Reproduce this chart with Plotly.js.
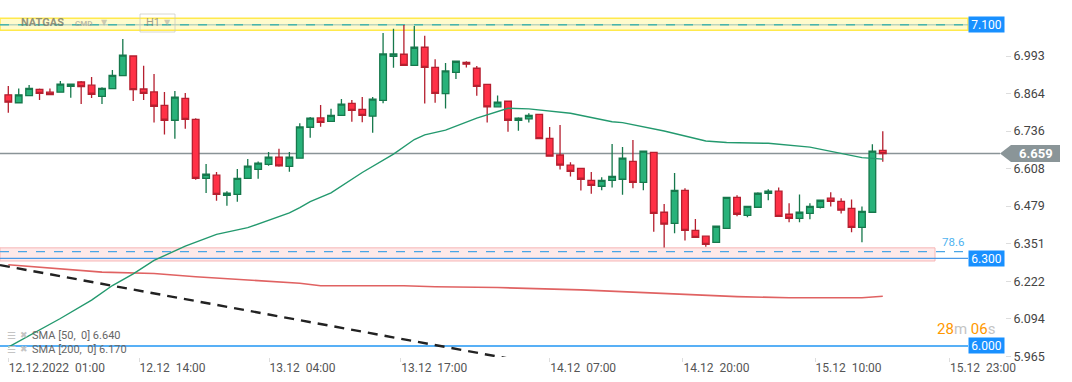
<!DOCTYPE html>
<html><head><meta charset="utf-8">
<script src="https://cdn.plot.ly/plotly-3.0.1.min.js"></script>
<style>html,body{margin:0;padding:0;background:#fff;}#chart{width:1072px;height:382px;}</style>
</head><body><div id="chart"></div>
<script>
// ---------- DATA (NATGAS, H1 candles) ----------
const openP = [6.860,6.833,6.857,6.879,6.869,6.869,6.889,6.904,6.893,6.855,
6.881,6.926,6.993,6.880,6.870,6.824,6.773,6.848,6.776,6.574,
6.585,6.516,6.519,6.574,6.605,6.622,6.647,6.615,6.643,6.749,
6.781,6.769,6.790,6.831,6.810,6.787,6.841,6.992,6.999,6.961,
7.023,6.954,6.864,6.937,6.971,6.951,6.896,6.819,6.838,6.773,
6.778,6.793,6.711,6.654,6.619,6.608,6.567,6.547,6.567,6.571,
6.632,6.560,6.663,6.458,6.420,6.533,6.396,6.376,6.355,6.403,
6.509,6.447,6.475,6.523,6.530,6.451,6.437,6.454,6.475,6.506,
6.495,6.471,6.406,6.458,6.670];
const highP = [6.890,6.882,6.894,6.882,6.882,6.907,6.898,6.907,6.921,6.886,
6.945,7.051,6.995,6.960,6.931,6.870,6.873,6.866,6.780,6.623,
6.596,6.530,6.606,6.640,6.632,6.664,6.675,6.664,6.763,6.784,
6.825,6.812,6.846,6.842,6.853,6.853,7.072,7.086,7.099,7.096,
7.062,6.982,6.969,6.976,6.975,6.959,6.897,6.858,6.841,6.783,
6.797,6.794,6.750,6.757,6.629,6.609,6.596,6.578,6.692,6.681,
6.705,6.668,6.664,6.486,6.592,6.540,6.435,6.377,6.411,6.510,
6.516,6.479,6.526,6.537,6.543,6.489,6.519,6.489,6.500,6.526,
6.506,6.502,6.478,6.691,6.735];
const lowP = [6.799,6.830,6.856,6.842,6.860,6.868,6.850,6.829,6.849,6.829,
6.880,6.925,6.839,6.842,6.765,6.724,6.710,6.744,6.569,6.524,
6.497,6.480,6.494,6.573,6.573,6.617,6.614,6.597,6.642,6.713,
6.751,6.768,6.789,6.768,6.766,6.730,6.831,6.953,6.960,6.960,
6.830,6.833,6.813,6.914,6.954,6.857,6.765,6.818,6.734,6.737,
6.765,6.708,6.649,6.604,6.580,6.532,6.521,6.533,6.543,6.518,
6.540,6.533,6.391,6.337,6.386,6.361,6.371,6.340,6.354,6.402,
6.444,6.441,6.474,6.499,6.443,6.424,6.424,6.434,6.471,6.478,
6.454,6.389,6.355,6.457,6.631];
const closeP = [6.835,6.860,6.882,6.865,6.861,6.897,6.897,6.888,6.862,6.882,
6.927,6.996,6.878,6.865,6.821,6.773,6.852,6.776,6.574,6.588,
6.519,6.523,6.574,6.616,6.626,6.647,6.617,6.647,6.750,6.780,
6.766,6.790,6.828,6.807,6.790,6.845,7.000,7.000,6.961,7.023,
6.954,6.865,6.942,6.975,6.965,6.889,6.819,6.835,6.773,6.780,
6.790,6.710,6.650,6.619,6.598,6.571,6.550,6.567,6.581,6.643,
6.560,6.667,6.454,6.417,6.533,6.396,6.372,6.348,6.410,6.509,
6.451,6.478,6.523,6.530,6.444,6.437,6.458,6.478,6.499,6.495,
6.465,6.406,6.461,6.667,6.659];

// SMA 50 (read at candle indices)
const sma50Idx = [0,5,8,10,12,14,17,20,23,25,27,28,29,31,34,37,39,40,42,45,48,50,52,54,58,59,63,67,69,73,77,80,82,84];
const sma50Val = [5.996,6.094,6.157,6.207,6.247,6.293,6.342,6.382,6.405,6.430,6.456,6.474,6.494,6.524,6.594,6.657,6.707,6.723,6.739,6.780,6.814,6.812,6.805,6.797,6.768,6.765,6.736,6.702,6.697,6.694,6.681,6.658,6.645,6.640];
// SMA 200
const sma200Idx = [0,4,9,14,18,23,28,30,38,41,47,55,60,65,70,75,82,84];
const sma200Val = [6.278,6.266,6.253,6.248,6.237,6.226,6.215,6.206,6.206,6.203,6.200,6.192,6.184,6.177,6.169,6.165,6.165,6.170];
// Trend line (dashed)
const trendIdx = [-0.8, 52];
const trendVal = [6.277, 5.931];

// Levels
const levelVals = [7.100, 6.300, 6.000];
const levelLabels = ['7.100', '6.300', '6.000'];
const fibVal = 6.323, fibLabel = '78.6';
const lastPrice = 6.659, lastLabel = '6.659';

// Axis ticks
const xTickPos = [0, 12.56, 25.05, 37.7, 52.0, 64.8, 77.5, 90.4];
const xTickText = ['12.12.2022\u00a0\u00a001:00','12.12\u00a0\u00a014:00','13.12\u00a0\u00a004:00','13.12\u00a0\u00a017:00','14.12\u00a0\u00a007:00','14.12\u00a0\u00a020:00','15.12\u00a0\u00a010:00','15.12\u00a0\u00a023:00'];
const yTickVals = [6.993, 6.864, 6.736, 6.608, 6.479, 6.351, 6.222, 6.094, 5.965];
const yTickText = ['6.993','6.864','6.736','6.608','6.479','6.351','6.222','6.094','5.965'];

// ---------- STYLE / LAYOUT ----------
const PW = 1005, PH = 357;
const px = x => x / PW;
const py = y => 1 - y / PH;
const FONT = 'Roboto, "Noto Sans", sans-serif';
const idx = openP.map((_, i) => i);

const traces = [
  {type:'scatter', mode:'lines', x:sma200Idx, y:sma200Val, line:{color:'#e06262', width:1.6}, hoverinfo:'skip'},
  {type:'scatter', mode:'lines', x:trendIdx, y:trendVal, line:{color:'#222', width:2.4, dash:'10px,7px'}, hoverinfo:'skip'},
  {type:'scatter', mode:'lines', x:sma50Idx, y:sma50Val, line:{color:'#23996e', width:1.4}, hoverinfo:'skip'},
  {type:'candlestick', x:idx, open:openP, high:highP, low:lowP, close:closeP,
   increasing:{line:{color:'#16784c', width:1.3}, fillcolor:'#28b27a'},
   decreasing:{line:{color:'#b51f2f', width:1.3}, fillcolor:'#ff3146'},
   whiskerwidth:0, hoverinfo:'skip'}
];

const shapes = [
  // yellow band around 7.100
  {type:'rect', xref:'paper', yref:'y', x0:0, x1:px(968), y0:7.081, y1:7.122, fillcolor:'#fffbcc', line:{color:'#ffe94d', width:1.5}, layer:'below'},
  {type:'line', xref:'paper', yref:'y', x0:0, x1:px(968), y0:levelVals[0], y1:levelVals[0], line:{color:'rgba(140,190,180,0.6)', width:1.5}, layer:'below'},
  {type:'line', xref:'paper', yref:'y', x0:0, x1:px(968), y0:levelVals[0], y1:levelVals[0], line:{color:'#49b5ac', width:1.5, dash:'dash'}, layer:'below'},
  // pink fib band
  {type:'rect', xref:'paper', yref:'y', x0:0, x1:px(935), y0:6.291, y1:6.336, fillcolor:'rgba(253,225,225,0.75)', line:{color:'#f6b6b6', width:1}, layer:'below'},
  {type:'line', xref:'paper', yref:'y', x0:0, x1:px(967), y0:fibVal, y1:fibVal, line:{color:'#4aa6e6', width:1.2, dash:'dash'}, layer:'below'},
  // 6.300 level
  {type:'line', xref:'paper', yref:'y', x0:0, x1:px(968), y0:levelVals[1], y1:levelVals[1], line:{color:'#4a9ae8', width:1.2}, layer:'below'},
  // 6.000 level
  {type:'line', xref:'paper', yref:'y', x0:0, x1:px(968), y0:levelVals[2], y1:levelVals[2], line:{color:'#2196f3', width:1.5}, layer:'below'},
  // last price line
  {type:'line', xref:'paper', yref:'y', x0:0, x1:px(1000), y0:lastPrice, y1:lastPrice, line:{color:'#8a9497', width:1.5}, layer:'below'},
  // last price tag
  {type:'path', xref:'paper', yref:'y', path:`M ${px(1000)},${lastPrice} L ${px(1011)},${lastPrice+0.029} L ${px(1060)},${lastPrice+0.029} L ${px(1060)},${lastPrice-0.029} L ${px(1011)},${lastPrice-0.029} Z`, fillcolor:'#8a9598', line:{width:0}},
  // H1 box
  {type:'rect', xref:'paper', yref:'paper', x0:px(140), x1:px(175), y0:py(32), y1:py(14), line:{color:'rgba(200,200,190,0.7)', width:1}, fillcolor:'rgba(255,255,255,0)'}
];

const annotations = [];
levelVals.forEach((v, i) => {
  annotations.push({xref:'paper', yref:'y', x:px(968), y:v, xanchor:'left', yanchor:'middle', text:levelLabels[i], showarrow:false,
    bgcolor:'#1890ff', font:{color:'#fff', size:12, family:FONT}, width:33, height:13, borderpad:1, align:'center'});
});
annotations.push(
  {xref:'paper', yref:'y', x:px(1036), y:lastPrice, xanchor:'center', yanchor:'middle', text:'<b>'+lastLabel+'</b>', showarrow:false, font:{color:'#fff', size:13, family:FONT}},
  {xref:'paper', yref:'y', x:px(940), y:fibVal+0.033, xanchor:'left', yanchor:'middle', text:fibLabel, showarrow:false, font:{color:'#4fb3f0', size:11.5, family:FONT}},
  {xref:'paper', yref:'paper', x:px(996), y:py(329), xanchor:'right', yanchor:'middle', showarrow:false, font:{size:15, family:FONT}, borderpad:0,
   text:'<span style="color:#ff9800">28</span><span style="color:#c4c4c4">m</span> <span style="color:#ff9800">06</span><span style="color:#c4c4c4">s</span>'},
  // header
  {xref:'paper', yref:'paper', x:px(19), y:py(23), xanchor:'left', yanchor:'middle', showarrow:false, text:'<b>NATGAS</b>', font:{size:11, color:'rgba(120,120,105,0.8)', family:FONT}},
  {xref:'paper', yref:'paper', x:px(73), y:py(24), xanchor:'left', yanchor:'middle', showarrow:false, text:'<b>CMD</b>', font:{size:8, color:'rgba(160,160,150,0.7)', family:FONT}},
  {xref:'paper', yref:'paper', x:px(99), y:py(22), xanchor:'left', yanchor:'middle', showarrow:false, text:'▼', font:{size:8, color:'rgba(170,170,160,0.6)', family:'DejaVu Sans'}},
  {xref:'paper', yref:'paper', x:px(144), y:py(23), xanchor:'left', yanchor:'middle', showarrow:false, text:'H1', font:{size:11, color:'rgba(120,120,110,0.7)', family:FONT}},
  {xref:'paper', yref:'paper', x:px(162), y:py(23), xanchor:'left', yanchor:'middle', showarrow:false, text:'▼', font:{size:8, color:'rgba(170,170,160,0.6)', family:'DejaVu Sans'}},
  // legend
  {xref:'paper', yref:'paper', x:px(5), y:py(335), xanchor:'left', yanchor:'middle', showarrow:false, text:'☰', font:{size:10, color:'#c4c4c4', family:'DejaVu Sans'}},
  {xref:'paper', yref:'paper', x:px(18), y:py(335), xanchor:'left', yanchor:'middle', showarrow:false, text:'✖', font:{size:9, color:'#c4c4c4', family:'DejaVu Sans'}},
  {xref:'paper', yref:'paper', x:px(30), y:py(335.5), xanchor:'left', yanchor:'middle', showarrow:false, text:'SMA [50,\u00a0 0] 6.640', font:{size:11, color:'#666', family:FONT}},
  {xref:'paper', yref:'paper', x:px(5), y:py(349), xanchor:'left', yanchor:'middle', showarrow:false, text:'☰', font:{size:10, color:'#c4c4c4', family:'DejaVu Sans'}},
  {xref:'paper', yref:'paper', x:px(18), y:py(349), xanchor:'left', yanchor:'middle', showarrow:false, text:'✖', font:{size:9, color:'#c4c4c4', family:'DejaVu Sans'}},
  {xref:'paper', yref:'paper', x:px(30), y:py(349.5), xanchor:'left', yanchor:'middle', showarrow:false, text:'SMA [200,\u00a0 0] 6.170', font:{size:11, color:'#666', family:FONT}}
);

const layout = {
  width:1072, height:382,
  margin:{l:0, r:67, t:0, b:25, pad:0},
  paper_bgcolor:'#fff', plot_bgcolor:'#fff',
  showlegend:false,
  font:{family:FONT},
  boxgap:0.2, boxgroupgap:0.2,
  xaxis:{range:[-0.797, 95.74], tickmode:'array', tickvals:xTickPos, ticktext:xTickText,
    ticks:'outside', ticklen:4, tickcolor:'#ddd', tickwidth:1, ticklabelposition:'outside right',
    tickfont:{size:12, color:'#555', family:FONT}, showgrid:false, zeroline:false, showline:false,
    rangeslider:{visible:false}, fixedrange:true},
  yaxis:{side:'right', range:[5.9622, 7.1848], tickmode:'array', tickvals:yTickVals, ticktext:yTickText,
    ticks:'outside', ticklen:5, tickcolor:'#ddd', tickwidth:1,
    tickfont:{size:12.5, color:'#444', family:FONT}, showgrid:false, zeroline:false, showline:false, fixedrange:true},
  shapes:shapes,
  annotations:annotations
};

Plotly.newPlot('chart', traces, layout, {staticPlot:true, displayModeBar:false});
</script></body></html>
